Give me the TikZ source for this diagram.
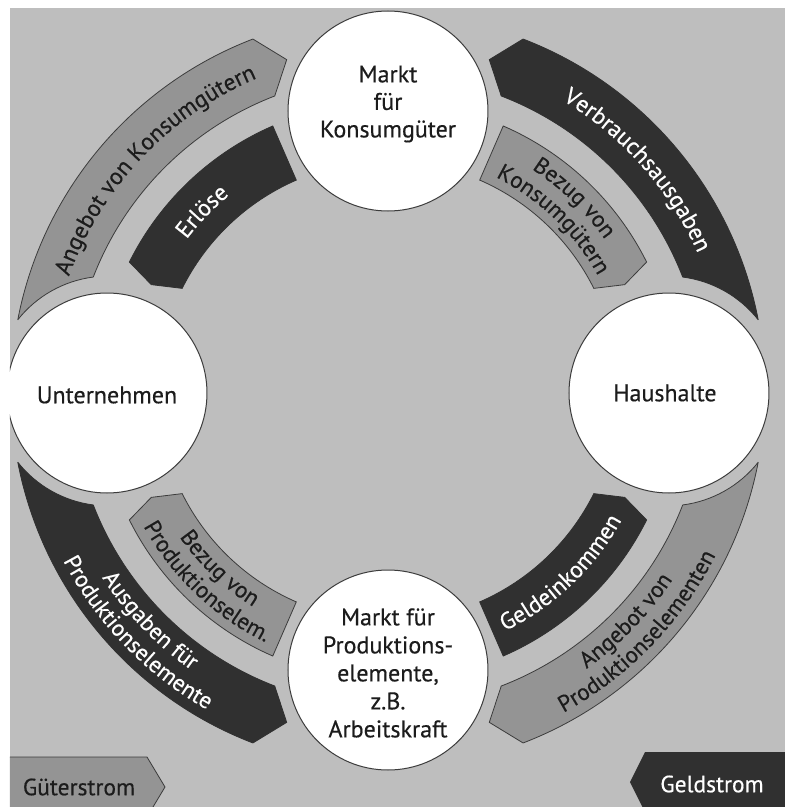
\documentclass[tikz,border=0pt]{standalone}
\usepackage{fontspec}
\setmainfont{PT Sans}[FakeBold=0.4]
\usetikzlibrary{decorations.text}
\definecolor{bgc}{RGB}{190,190,190}
\definecolor{midc}{RGB}{148,148,148}
\definecolor{darkc}{RGB}{48,48,48}
\definecolor{linec}{RGB}{60,60,60}
\definecolor{txtc}{RGB}{28,28,28}
\newcommand\arrfont{\fontsize{23.5}{23.5}\selectfont}
\newcommand\arrfontb{\fontsize{23}{23}\selectfont}
\newcommand\ringtext[5]{%
  \path[decorate, decoration={text along path, text align=center,
    text={|\arrfont\color{#1}|#5}}]
    (#3:#2) arc[start angle=#3, end angle=#4, radius=#2];}
\newcommand\ringtextb[5]{%
  \path[decorate, decoration={text along path, text align=center,
    text={|\arrfontb\color{#1}|#5}}]
    (#3:#2) arc[start angle=#3, end angle=#4, radius=#2];}
\tikzset{
  outerarrow/.pic={\path[pic actions]
    (10.9:377) arc[start angle=10.9, end angle=69, radius=377]
    -- (73:346.5) -- (69:316)
    arc[start angle=69, end angle=21.14, radius=316]
    arc[start angle=82.65, end angle=38.3, radius=115] -- cycle;},
  innerarrow/.pic={\path[pic actions]
    (66.5:289) arc[start angle=66.5, end angle=26.5, radius=289]
    -- (24.2:259.5) -- (26.5:230)
    arc[start angle=26.5, end angle=66.5, radius=230] -- cycle;},
  ring/.style={circle, draw=linec, fill=white, line width=1pt,
    minimum size=200pt, inner sep=0pt},
  ctext/.style={align=center, text=txtc, inner sep=0pt},
  midarrow/.style={fill=midc, draw=linec, line width=0.8pt},
  darkarrow/.style={fill=darkc, draw=darkc, line width=0.8pt}
}
\begin{document}
\begin{tikzpicture}[x=1pt,y=1pt]
\useasboundingbox (-388,-416) rectangle (405,391);
\begin{scope}
\clip (-378,-416) rectangle (397,383);
\fill[bgc] (-378,-416) rectangle (397,383);
% outer arrows
\pic[darkarrow] at (0,0) {outerarrow};
\pic[midarrow, xscale=-1] at (0,0) {outerarrow};
\pic[darkarrow, scale=-1] at (0,0) {outerarrow};
\pic[midarrow, yscale=-1] at (0,0) {outerarrow};
% inner arrows
\pic[midarrow] at (0,0) {innerarrow};
\pic[darkarrow, xscale=-1] at (0,0) {innerarrow};
\pic[midarrow, scale=-1] at (0,0) {innerarrow};
\pic[darkarrow, yscale=-1] at (0,0) {innerarrow};
% circles
\node[ring] (mkg) at (0,280) {};
\node[ring] (unt) at (-281,-2) {};
\node[ring] (hh) at (281,-2) {};
\node[ring] (mpe) at (0,-279) {};
\node[ctext, font=\fontsize{24}{27.5}\selectfont] (mkgt) at (0,287) {Markt\\für\\Konsumgüter};
\node[ctext, font=\fontsize{24}{28}\selectfont] (untt) at (-281,-4) {Unternehmen};
\node[ctext, font=\fontsize{24}{28}\selectfont] (hht) at (277,-2) {Haushalte};
\node[ctext, font=\fontsize{24}{28}\selectfont] (mpet) at (0,-282) {Markt für\\Produktions-\\elemente,\\z.B.\\Arbeitskraft};
% arrow texts, top half (clockwise)
\ringtext{white}{339}{65}{18}{Verbrauchsausgaben}
\ringtext{txtc}{339}{162}{111}{Angebot von Konsumgütern}
\ringtext{white}{252}{156}{116}{Erlöse}
\ringtextb{txtc}{264.5}{68}{24}{Bezug von}
\ringtextb{txtc}{239.5}{68}{24}{Konsumgütern}
% arrow texts, bottom half (counterclockwise)
\ringtextb{white}{341.5}{194}{254}{Ausgaben für}
\ringtextb{white}{366.5}{194}{254}{Produktionselemente}
\ringtextb{txtc}{341.5}{286}{346}{Angebot von}
\ringtextb{txtc}{366.5}{286}{346}{Produktionselementen}
\ringtextb{txtc}{254.5}{203}{250}{Bezug von}
\ringtextb{txtc}{279.5}{203}{250}{Produktionselem.}
\ringtext{white}{267}{290}{337}{Geldeinkommen}
% legend
\path[midarrow] (-380,-366) -- (-241,-366) -- (-223,-396) -- (-241,-426) -- (-380,-426) -- cycle;
\node[ctext, font=\fontsize{23.5}{28}\selectfont] (gs) at (-309,-396) {Güterstrom};
\path[fill=darkc] (400,-361) -- (257,-361) -- (242,-391) -- (257,-421) -- (400,-421) -- cycle;
\node[ctext, font=\fontsize{23.5}{28}\selectfont, text=white] (gd) at (324,-393) {Geldstrom};
\end{scope}
\end{tikzpicture}
\end{document}
